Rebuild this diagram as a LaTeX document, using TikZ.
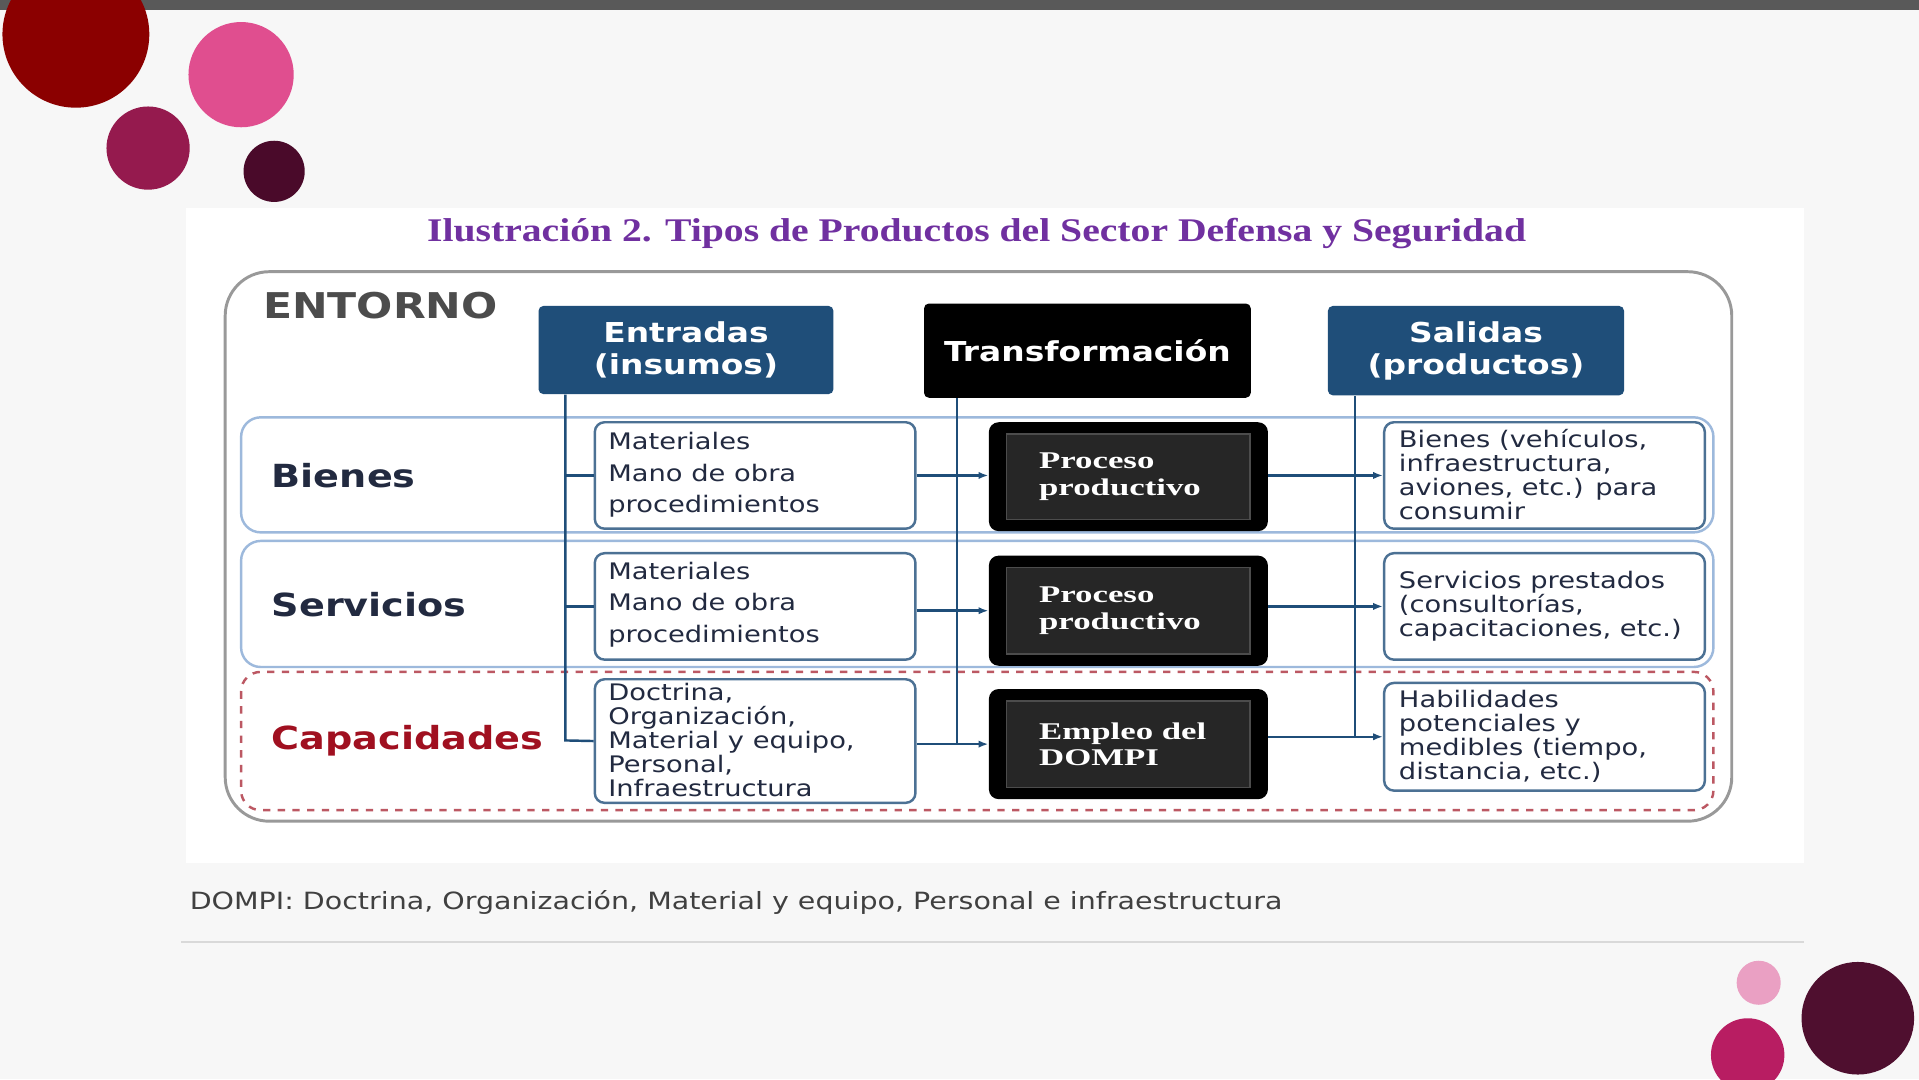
\documentclass[tikz,border=0pt]{standalone}
\usepackage{fontspec}
\setmainfont[FakeStretch=1.2]{DejaVu Sans}
\newfontfamily\serifbold[FakeStretch=1.2]{Liberation Serif}
\newfontfamily\serifwide[FakeStretch=1.45]{Liberation Serif}
\usetikzlibrary{arrows.meta}
\definecolor{bgc}{HTML}{F7F7F7}
\definecolor{navy}{HTML}{1F4E79}
\definecolor{bandb}{HTML}{9DB9DC}
\definecolor{capred}{HTML}{A01020}
\definecolor{ttl}{HTML}{7030A0}
\definecolor{txt}{HTML}{222A40}
\definecolor{ca}{HTML}{8B0000}
\definecolor{cb}{HTML}{E04E8F}
\definecolor{cc}{HTML}{951A4E}
\definecolor{cd}{HTML}{4A0A2A}
\definecolor{ce}{HTML}{EAA0C3}
\definecolor{cf}{HTML}{B81D62}
\definecolor{cg}{HTML}{4F0F2F}
\tikzset{
 hdr/.style={fill=navy,rounded corners=2pt,text=white,font=\bfseries\fontsize{11.2}{13}\selectfont,align=center},
 inbox/.style={draw=navy!80,line width=1pt,fill=white,rounded corners=4pt},
 intext/.style={font=\fontsize{9.3}{13}\selectfont,text=txt,align=left,anchor=west},
 proc/.style={fill=black,rounded corners=4pt},
 proctext/.style={font=\serifwide\bfseries\fontsize{9.8}{10.8}\selectfont,text=white,align=left,anchor=west},
 band/.style={draw=bandb,line width=1pt,rounded corners=8pt},
 rowlab/.style={font=\bfseries\fontsize{13}{14}\selectfont,text=txt,anchor=west},
 conn/.style={navy,line width=1pt},
 arr/.style={conn,-{Latex[length=4pt,width=3pt]}}
}
\begin{document}
\begin{tikzpicture}[x=0.5pt,y=-0.5pt]
\fill[bgc] (0,0) rectangle (1568,882);
\useasboundingbox (0,0) rectangle (1568,882);
\fill[black!65] (0,0) rectangle (1568,8);
% circles
\fill[ca] (62,28) circle (60);
\fill[cb] (197,61) circle (43);
\fill[cc] (121,121) circle (34);
\fill[cd] (224,140) circle (25);
\fill[ce] (1437,803) circle (18);
\fill[cf] (1428,862) circle (30);
\fill[cg] (1518,832) circle (46);
% panel
\fill[white] (152,170) rectangle (1474,705);
\node[font=\serifbold\bfseries\fontsize{13.5}{14}\selectfont,text=ttl] (title) at (798,191) {Ilustración 2. Tipos de Productos del Sector Defensa y Seguridad};
\draw[black!40,line width=1.2pt,rounded corners=18pt] (184,222) rectangle (1415,671);
\node[font=\bfseries\fontsize{14.5}{15}\selectfont,text=black!70,anchor=west] (ent) at (208,250) {ENTORNO};
% bands
\draw[band] (197,341) rectangle (1400,435);
\draw[band] (197,442) rectangle (1400,545);
\draw[capred!70,dashed,line width=1pt,rounded corners=8pt] (197,549) rectangle (1400,662);
\node[rowlab] (lb) at (215,389) {Bienes};
\node[rowlab] (ls) at (215,494) {Servicios};
\node[rowlab,text=capred] (lc) at (215,605) {Capacidades};
% headers
\node[hdr,minimum width=120.5pt,minimum height=36pt] (E) at (560.5,286) {Entradas\\(insumos)};
\node[hdr,fill=black,minimum width=133.5pt,minimum height=38.5pt] (T) at (888.5,286.5) {Transformación};
\node[hdr,minimum width=121pt,minimum height=36.5pt] (S) at (1206,286.5) {Salidas\\(productos)};
% inputs
\node[inbox,minimum width=131pt,minimum height=43.5pt] (i1) at (617,388.5) {};
\node[inbox,minimum width=131pt,minimum height=43.5pt] (i2) at (617,495.5) {};
\node[inbox,minimum width=131pt,minimum height=50.5pt] (i3) at (617,605.5) {};
\node[intext] at (490,388) {Materiales\\Mano de obra\\procedimientos};
\node[intext] at (490,494) {Materiales\\Mano de obra\\procedimientos};
\node[intext,font=\fontsize{9.3}{9.8}\selectfont] at (490,605) {Doctrina,\\Organización,\\Material y equipo,\\Personal,\\Infraestructura};
% process
\foreach \n/\y/\h/\t in {p1/389.5/44.5/{Proceso\\productivo},p2/499/45/{Proceso\\productivo},p3/608/45/{Empleo del\\DOMPI}}{
 \node[proc,minimum width=114pt,minimum height=\h pt] (\n) at (922,\y) {};
 \draw[black!70!white,line width=0.6pt,fill=black!85] ([shift={(15,10)}]\n.north west) rectangle ([shift={(-15,-10)}]\n.south east);
 \node[proctext] at (842,\y) {\t};
}
% outputs
\node[inbox,minimum width=131pt,minimum height=43.5pt] (o1) at (1262,388.5) {};
\node[inbox,minimum width=131pt,minimum height=43.5pt] (o2) at (1262,495.5) {};
\node[inbox,minimum width=131pt,minimum height=44pt] (o3) at (1262,602) {};
\node[intext,font=\fontsize{9.3}{9.8}\selectfont] at (1136,388) {Bienes (vehículos,\\infraestructura,\\aviones, etc.) para\\consumir};
\node[intext,font=\fontsize{9.3}{9.8}\selectfont] at (1136,495) {Servicios prestados\\(consultorías,\\capacitaciones, etc.)};
\node[intext,font=\fontsize{9.3}{9.8}\selectfont] at (1136,602) {Habilidades\\potenciales y\\medibles (tiempo,\\distancia, etc.)};
% connectors
\coordinate (e3) at (462,605);
\draw[conn] (E.south -| e3) -- (e3) -- (i3.west);
\draw[conn] (i1.west -| e3) -- (i1.west);
\draw[conn] (i2.west -| e3) -- (i2.west);
\coordinate (t3) at (782,607);
\draw[conn] (T.south -| t3) -- (t3);
\draw[arr] (i1.east) -- (p1.west |- i1.east);
\draw[arr] (i2.east |- p2.west) -- (p2.west);
\draw[arr] (i3.east |- p3.west) -- (p3.west);
\coordinate (s3) at (1107,602);
\draw[conn] (S.south -| s3) -- (s3);
\draw[arr] (p1.east |- o1.west) -- (o1.west);
\draw[arr] (p2.east |- o2.west) -- (o2.west);
\draw[arr] (p3.east |- o3.west) -- (o3.west);
% caption
\node[anchor=west,font=\fontsize{9.7}{12}\selectfont,text=black!75] (cap) at (148,737) {DOMPI: Doctrina, Organización, Material y equipo, Personal e infraestructura};
\draw[black!15,line width=0.8pt] (148,770) -- (1474,770);
\end{tikzpicture}
\end{document}
